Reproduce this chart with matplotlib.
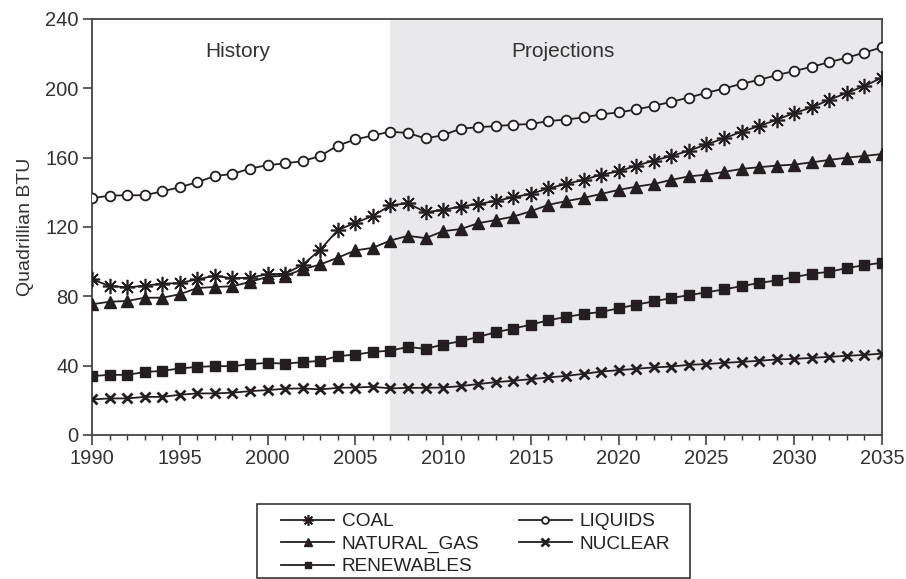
import matplotlib
matplotlib.use("Agg")
import matplotlib.pyplot as plt
from matplotlib.ticker import MultipleLocator
from matplotlib.patches import Rectangle

years = list(range(1990, 2036))

coal = [89.8, 86.0, 85.2, 86.1, 87.3, 87.7, 89.8, 91.9, 90.4, 90.8,
        92.7, 93.0, 98.2, 106.9, 118.2, 122.4, 126.4, 132.5, 133.7, 128.5,
        129.9, 131.8, 133.3, 135.0, 137.2, 139.1, 142.3, 144.8, 147.2, 150.2,
        152.1, 155.4, 158.3, 161.0, 164.0, 167.7, 171.1, 175.0, 178.2, 181.9,
        185.7, 189.0, 193.4, 197.4, 201.3, 206.2]
liquids = [136.6, 138.1, 138.3, 138.3, 140.6, 142.9, 145.9, 149.4, 150.6, 153.7,
           155.7, 156.7, 158.0, 161.0, 167.0, 170.5, 172.8, 175.0, 174.2, 171.1,
           173.0, 176.7, 177.6, 178.2, 179.0, 179.4, 181.1, 182.0, 183.2, 185.0,
           186.1, 187.8, 189.9, 192.2, 194.7, 197.4, 199.9, 202.6, 204.9, 207.6,
           210.0, 212.4, 215.1, 217.7, 220.6, 223.7]
natural_gas = [75.4, 76.9, 77.3, 79.2, 79.2, 81.2, 84.8, 85.4, 85.8, 88.3,
               91.3, 91.9, 95.5, 98.4, 102.3, 106.5, 108.0, 112.2, 114.9, 113.6,
               117.6, 118.8, 122.2, 124.0, 126.0, 129.1, 132.8, 134.9, 136.8, 139.1,
               141.4, 143.3, 144.8, 147.2, 149.2, 150.2, 151.8, 153.5, 154.5, 155.4,
               156.0, 157.3, 158.7, 160.0, 161.0, 162.1]
nuclear = [20.5, 21.1, 21.1, 22.0, 22.0, 23.2, 24.0, 24.0, 24.4, 25.3,
           25.9, 26.7, 26.9, 26.3, 27.2, 27.4, 27.8, 26.9, 27.2, 27.2,
           27.4, 28.2, 29.4, 30.5, 31.3, 32.2, 33.2, 34.1, 35.3, 36.6,
           37.4, 38.2, 39.0, 39.5, 40.5, 40.9, 41.6, 42.2, 42.8, 43.6,
           43.9, 44.5, 45.1, 45.7, 46.2, 47.0]
renewables = [34.0, 34.7, 34.7, 36.3, 37.0, 38.4, 39.3, 39.7, 39.7, 40.9,
              41.6, 41.2, 42.0, 42.8, 45.5, 46.4, 47.9, 48.7, 50.8, 49.7,
              52.2, 54.1, 56.6, 59.3, 61.4, 63.7, 66.2, 68.1, 69.8, 71.0,
              73.1, 75.2, 77.1, 79.0, 80.7, 82.3, 84.0, 85.9, 87.7, 89.2,
              91.1, 93.0, 94.2, 96.3, 98.0, 99.4]

x_ticks = [1990, 1995, 2000, 2005, 2010, 2015, 2020, 2025, 2030, 2035]
y_ticks = [0, 40, 80, 120, 160, 200, 240]
projection_start = 2007

plt.rcParams['font.family'] = ['Liberation Sans', 'DejaVu Sans']

W, H = 906, 579
fig = plt.figure(figsize=(W/100, H/100), dpi=100)
ax = fig.add_axes([92/W, 1-435/H, (882-92)/W, (435-19)/H])

ax.axvspan(projection_start, 2035, color='#e9e9eb', zorder=0, lw=0)

lc = '#231f20'
lw = 1.3
ax.plot(years, coal, color=lc, lw=lw, marker=(8, 2, 0), ms=11, mew=1.2,
        mec=lc, label='COAL', zorder=3)
ax.plot(years, natural_gas, color=lc, lw=lw, marker='^', ms=8, mfc=lc,
        mec=lc, label='NATURAL_GAS', zorder=3)
ax.plot(years, renewables, color=lc, lw=lw, marker='s', ms=7, mfc=lc,
        mec=lc, label='RENEWABLES', zorder=3)
ax.plot(years, liquids, color=lc, lw=lw, marker='o', ms=7, mfc='white',
        mec=lc, mew=1.3, label='LIQUIDS', zorder=3)
ax.plot(years, nuclear, color=lc, lw=lw, marker='x', ms=7.5, mew=2,
        mec=lc, label='NUCLEAR', zorder=3)

ax.set_xlim(1990, 2035)
ax.set_ylim(0, 240)
ax.set_xticks(x_ticks)
ax.set_yticks(y_ticks)
ax.xaxis.set_minor_locator(MultipleLocator(1))
ax.tick_params(axis='both', which='major', labelsize=14.5, colors='#333333',
               direction='out', width=1.1)
ax.tick_params(axis='x', which='major', length=7, pad=3)
ax.tick_params(axis='x', which='minor', length=3.6, width=1.0, direction='out',
               colors='#333333')
ax.tick_params(axis='y', which='major', length=6.5, pad=3)
for s in ax.spines.values():
    s.set_color('#444444')
    s.set_linewidth(1.3)

ax.set_ylabel('Quadrillian BTU', fontsize=14, color='#333333', labelpad=8)

ax.text(1998.3, 221, 'History', fontsize=15, color='#333333',
        ha='center', va='center')
ax.text(2016.8, 221, 'Projections', fontsize=15, color='#333333',
        ha='center', va='center')

# legend box
fig.add_artist(Rectangle((257/W, 1-578/H), (690-257)/W, (578-504)/H,
                         transform=fig.transFigure, fill=False,
                         edgecolor='#333333', lw=1.2))
leg = fig.legend(loc='upper left', bbox_to_anchor=(281/W, 1-513/H),
                 ncol=2, fontsize=13.7, frameon=False,
                 handlelength=2.8, handletextpad=0.4, labelspacing=0.27,
                 borderpad=0, columnspacing=2.05, borderaxespad=0,
                 markerscale=0.7, labelcolor='#222222')

fig.savefig('out.png', dpi=100)
